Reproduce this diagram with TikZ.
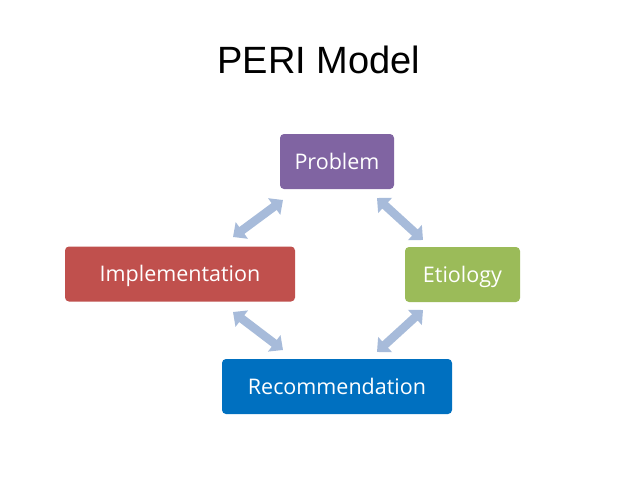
\documentclass[tikz,border=0pt]{standalone}
\usepackage{fontspec}
\setmainfont{Liberation Sans}
\newfontfamily\boxfont{Open Sans}
\usepackage{xcolor}
\usetikzlibrary{arrows.meta,positioning}

\definecolor{periPurple}{HTML}{8064A2}
\definecolor{periRed}{HTML}{C0504D}
\definecolor{periGreen}{HTML}{9BBB59}
\definecolor{periBlue}{HTML}{0070C0}
\definecolor{periArrow}{HTML}{A7BBDA}

\begin{document}
\begin{tikzpicture}[
  x=1pt,y=-1pt,
  stage/.style={rounded corners=4pt,align=center,minimum height=55pt,
                text=white,font=\boxfont\fontsize{21.5}{24}\selectfont,
                text height=15pt,text depth=0pt,inner sep=0pt},
  cycle/.style={{Triangle[width=20pt,length=11pt]}-{Triangle[width=20pt,length=11pt]},
                line width=8.5pt,draw=periArrow,fill=periArrow}
]
\useasboundingbox[fill=white] (0,0) rectangle (638,479);
\node[anchor=base,font=\fontsize{38}{41}\selectfont] (title) at (319,73) {PERI Model};
\node[stage,fill=periPurple,minimum width=114pt] (problem) at (337,161.5) {Problem};
\node[stage,fill=periRed,minimum width=230pt] (impl) at (180,274) {Implementation};
\node[stage,fill=periGreen,minimum width=115pt] (etio) at (462.5,274.5) {Etiology};
\node[stage,fill=periBlue,minimum width=230pt] (recom) at (337,386.5) {Recommendation};
% arrow ends
\coordinate (pi-a) at (283,200);
\coordinate (pi-b) at (233,237);
\coordinate (pe-a) at (377,198);
\coordinate (pe-b) at (423,240);
\coordinate (ir-a) at (233,312);
\coordinate (ir-b) at (283,350);
\coordinate (er-a) at (423,310);
\coordinate (er-b) at (377,352);
\draw[cycle] (pi-a) -- (pi-b);
\draw[cycle] (pe-a) -- (pe-b);
\draw[cycle] (ir-a) -- (ir-b);
\draw[cycle] (er-a) -- (er-b);
\end{tikzpicture}
\end{document}
